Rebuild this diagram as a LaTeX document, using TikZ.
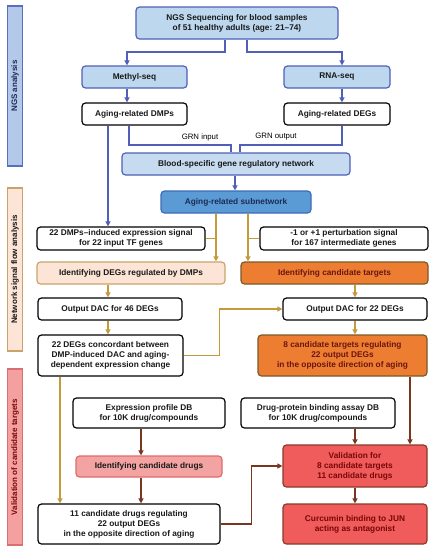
\documentclass[tikz,border=0pt]{standalone}
\usepackage{fontspec}
\setmainfont{Liberation Sans}
\usetikzlibrary{arrows.meta,calc}
\definecolor{bline}{HTML}{5060B8}
\definecolor{lblue}{HTML}{BDD7EE}
\definecolor{gblue}{HTML}{C6DAF0}
\definecolor{mblue}{HTML}{5B9BD5}
\definecolor{mblueb}{HTML}{3C6CB4}
\definecolor{navy}{HTML}{1C2A55}
\definecolor{gold}{HTML}{C39A3C}
\definecolor{peach}{HTML}{FCE4D6}
\definecolor{peachb}{HTML}{C9A46A}
\definecolor{orng}{HTML}{ED7D31}
\definecolor{orngb}{HTML}{7A5A28}
\definecolor{otext}{HTML}{6A1510}
\definecolor{brown}{HTML}{7A3520}
\definecolor{pinkf}{HTML}{F4A3A3}
\definecolor{pinkb}{HTML}{E06B6B}
\definecolor{redf}{HTML}{F05B5B}
\definecolor{redb}{HTML}{8A3A2A}
\definecolor{rtext}{HTML}{780808}
\definecolor{sbblue}{HTML}{B4C8EA}
\definecolor{sbblueb}{HTML}{5A6EC0}
\definecolor{sbred}{HTML}{F4A0A0}
\definecolor{sbredb}{HTML}{D87070}
\tikzset{
  box/.style={draw=black, line width=1.2pt, rounded corners=3.5pt, align=center,
    inner sep=0pt, font=\bfseries\fontsize{8.3}{10}\selectfont, text=black!90},
  bluebox/.style={box, fill=lblue, draw=bline},
  whitebox/.style={box, fill=white},
  peachbox/.style={box, fill=peach, draw=peachb},
  orangebox/.style={box, fill=orng, draw=orngb, text=otext},
  pinkbox/.style={box, fill=pinkf, draw=pinkb},
  redbox/.style={box, fill=redf, draw=redb, text=rtext},
  sidebar/.style={draw, line width=1.2pt, rotate=90, inner sep=0pt, minimum height=15pt,
    font=\bfseries\fontsize{8}{9}\selectfont},
  tip/.style={-{Triangle[length=5pt,width=5pt]}},
  barr/.style={line width=1.3pt, draw=bline},
  garr/.style={line width=1.3pt, draw=gold},
  rarr/.style={line width=1.3pt, draw=brown},
  lbl/.style={font=\fontsize{7.8}{9}\selectfont, inner sep=0pt}
}
\begin{document}
\begin{tikzpicture}[x=1pt,y=-1pt]
\useasboundingbox[fill=white] (0,0) rectangle (434,550);
% side bars
\node[sidebar, fill=sbblue, draw=sbblueb, text=navy, minimum width=160pt] (sb1) at (15,86) {NGS analysis};
\node[sidebar, fill=peach, draw=peachb, text=black!90, minimum width=163pt] (sb2) at (15,269.5) {Network signal flow analysis};
\node[sidebar, fill=sbred, draw=sbredb, text=rtext, minimum width=176pt] (sb3) at (15,457) {Validation of candidate targets};
% nodes
\node[bluebox, minimum width=202pt, minimum height=32pt] (ngs) at (237,23) {NGS Sequencing for blood samples\\of 51 healthy adults (age: 21--74)};
\node[bluebox, minimum width=105pt, minimum height=22pt] (methyl) at (134.5,77) {Methyl-seq};
\node[bluebox, minimum width=106pt, minimum height=22pt] (rna) at (337,77) {RNA-seq};
\node[whitebox, minimum width=105pt, minimum height=22pt] (dmps) at (134.5,114) {Aging-related DMPs};
\node[whitebox, minimum width=106pt, minimum height=22pt] (degs) at (337,114) {Aging-related DEGs};
\node[box, fill=gblue, draw=bline, minimum width=228pt, minimum height=22pt] (grn) at (236,164) {Blood-specific gene regulatory network};
\node[box, fill=mblue, draw=mblueb, text=navy, minimum width=150pt, minimum height=22pt] (sub) at (236,202) {Aging-related subnetwork};
\node[whitebox, minimum width=168pt, minimum height=23pt] (sig1) at (121,238.5) {22 DMPs--induced expression signal\\for 22 input TF genes};
\node[whitebox, minimum width=168pt, minimum height=23pt] (sig2) at (344,238.5) {-1 or +1 perturbation signal\\for 167 intermediate genes};
\node[peachbox, minimum width=188pt, minimum height=22pt] (iddeg) at (131,273) {Identifying DEGs regulated by DMPs};
\node[orangebox, minimum width=187pt, minimum height=22pt] (idtgt) at (334.5,273) {Identifying candidate targets};
\node[whitebox, minimum width=144pt, minimum height=22pt] (dac46) at (110,309) {Output DAC for 46 DEGs};
\node[whitebox, minimum width=144pt, minimum height=22pt] (dac22) at (355,309) {Output DAC for 22 DEGs};
\node[whitebox, minimum width=145pt, minimum height=41pt] (conc) at (110.5,355.5) {22 DEGs concordant between\\DMP-induced DAC and aging-\\dependent expression change};
\node[orangebox, minimum width=169pt, minimum height=41pt] (tgt8) at (342.5,355.5) {8 candidate targets regulating\\22 output DEGs\\in the opposite direction of aging};
\node[whitebox, minimum width=152pt, minimum height=30pt] (exdb) at (149,413) {Expression profile DB\\for 10K drug/compounds};
\node[whitebox, minimum width=154pt, minimum height=30pt] (dpdb) at (318,413) {Drug-protein binding assay DB\\for 10K drug/compounds};
\node[pinkbox, minimum width=146pt, minimum height=21pt] (iddrug) at (149,466.5) {Identifying candidate drugs};
\node[whitebox, minimum width=182pt, minimum height=40pt] (drugs) at (129,524) {11 candidate drugs regulating\\22 output DEGs\\in the opposite direction of aging};
\node[redbox, minimum width=144pt, minimum height=42pt] (valid) at (355,466) {Validation for\\8 candidate targets\\11 candidate drugs};
\node[redbox, minimum width=144pt, minimum height=40pt] (curc) at (355,524) {Curcumin binding to JUN\\acting as antagonist};
% labels
\node[lbl] (lin) at (200,137) {GRN input};
\node[lbl] (lout) at (276,137) {GRN output};
% blue connectors
\draw[barr,tip] (ngs.south -| 225,0) |- (127,52) -- (methyl.north -| 127,0);
\draw[barr,tip] (ngs.south -| 247,0) |- (342,52) -- (rna.north -| 342,0);
\draw[barr,tip] (methyl.south -| 127,0) -- (dmps.north -| 127,0);
\draw[barr,tip] (rna.south -| 342,0) -- (degs.north -| 342,0);
\draw[barr,tip] (dmps.south -| 108,0) -- (sig1.north -| 108,0);
\draw[barr] (dmps.south -| 129,0) |- (231,145) -- (grn.north -| 231,0);
\draw[barr] (degs.south -| 342,0) |- (240,145) -- (grn.north -| 240,0);
\draw[barr,tip] (grn.south -| 235,0) -- (sub.north -| 235,0);
% gold connectors
\draw[garr,tip] (sub.south -| 216,0) -- (iddeg.north -| 216,0);
\draw[garr,tip] (sub.south -| 248,0) -- (idtgt.north -| 248,0);
\draw[garr] (sig1.east) -- (sig1.east -| 216,0);
\draw[garr] (sig2.west) -- (sig2.west -| 248,0);
\draw[garr,tip] (iddeg.south -| 108,0) -- (dac46.north -| 108,0);
\draw[garr,tip] (idtgt.south -| 355,0) -- (dac22.north -| 355,0);
\draw[garr,tip] (dac46.south -| 108,0) -- (conc.north -| 108,0);
\draw[garr,tip] (dac22.south -| 355,0) -- (tgt8.north -| 355,0);
\draw[garr,tip] (conc.east) -- ++(36,0) |- (dac22.west);
\draw[garr,tip] (conc.south -| 60,0) -- (drugs.north -| 60,0);
% brown connectors
\draw[rarr,tip] (tgt8.south -| 410,0) -- (valid.north -| 410,0);
\draw[rarr,tip] (exdb.south -| 141,0) -- (iddrug.north -| 141,0);
\draw[rarr,tip] (iddrug.south -| 141,0) -- (drugs.north -| 141,0);
\draw[rarr,tip] (drugs.east) -- ++(31,0) |- (valid.west);
\draw[rarr,tip] (dpdb.south -| 355,0) -- (valid.north -| 355,0);
\draw[rarr,tip] (valid.south -| 355,0) -- (curc.north -| 355,0);
\end{tikzpicture}
\end{document}
